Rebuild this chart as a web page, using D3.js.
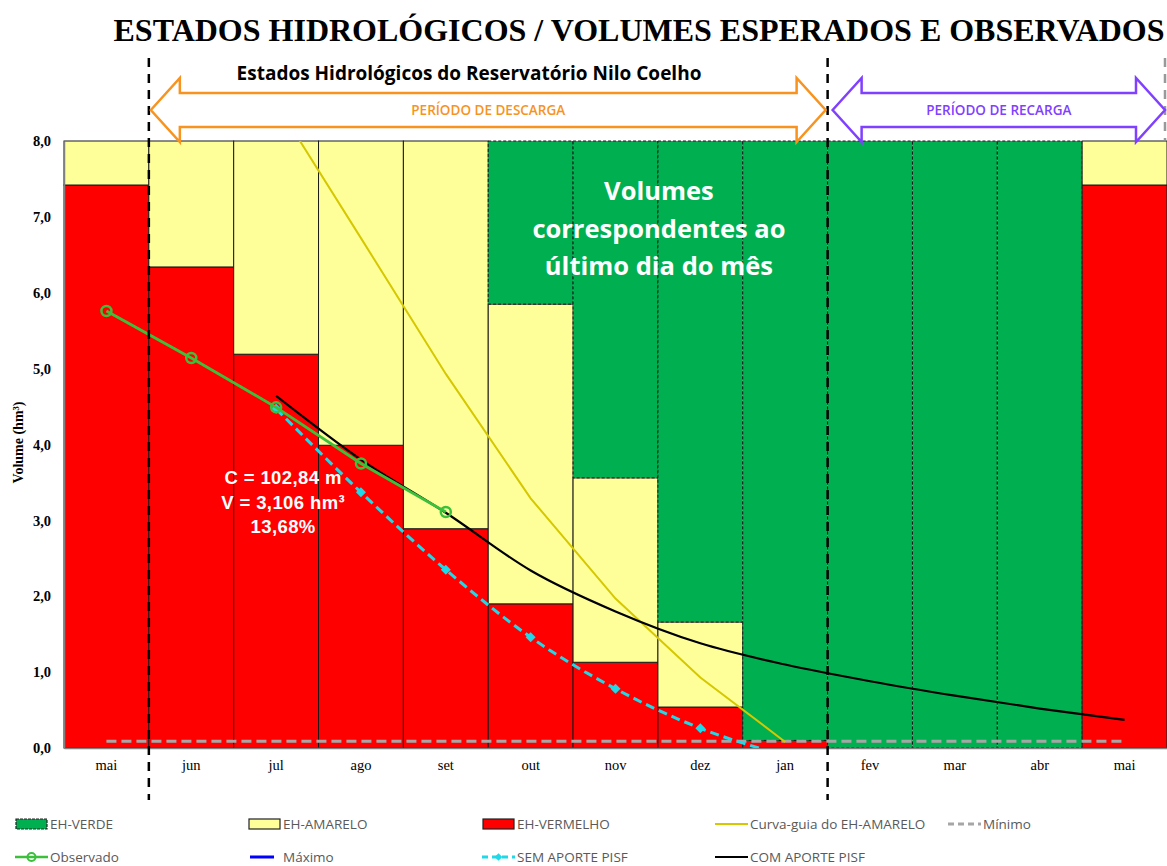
<!DOCTYPE html>
<html>
<head>
<meta charset="utf-8">
<script src="https://cdn.jsdelivr.net/npm/d3@7"></script>
<style>
  body { margin: 0; background: #fff; }
</style>
</head>
<body>
<div id="plot"></div>
<script>
// months of the hydrological year (last day of each month)
const months = ["mai", "jun", "jul", "ago", "set", "out", "nov", "dez", "jan", "fev", "mar", "abr", "mai"];

// state bands (hm³): top of red band, top of yellow band, green fills up to 8
const ehVermelho = [7.42, 6.34, 5.19, 3.99, 2.89, 1.90, 1.13, 0.54, 0.10, 0, 0, 0, 7.42];
const ehAmarelo  = [8, 8, 8, 8, 8, 5.85, 3.56, 1.66, 0.10, 0, 0, 0, 8];

// lines
const observado  = [5.76, 5.14, 4.49, 3.75, 3.11, null, null, null, null, null, null, null, null];
const semAporte  = [null, null, 4.47, 3.37, 2.35, 1.46, 0.78, 0.26, -0.10, null, null, null, null];
const comAporte  = [null, null, 4.64, 3.80, 3.10, 2.34, 1.80, 1.38, 1.10, 0.88, 0.69, 0.52, 0.37];
const curvaGuia  = [null, null, 8.50, 6.72, 4.93, 3.29, 1.97, 0.93, 0.08, null, null, null, null];
const minimo     = [0.09, 0.09, 0.09, 0.09, 0.09, 0.09, 0.09, 0.09, 0.09, 0.09, 0.09, 0.09, 0.09];

const yTicks = [0, 1, 2, 3, 4, 5, 6, 7, 8];

const annotation = ["C = 102,84 m", "V = 3,106 hm³", "13,68%"];
const greenNote = ["Volumes", "correspondentes ao", "último dia do mês"];

window.addEventListener("load", main);

function main(){
  const width = 1167, height = 866;
  const C = {
    red: "#ff0000", yellow: "#ffff99", green: "#00b050",
    obs: "#3cc03c", cyan: "#1fd8e8", guide: "#d6c800", min: "#a6a6a6",
    orange: "#f7931e", purple: "#8040ff"
  };

  const svg = d3.select("#plot").append("svg")
    .attr("width", width)
    .attr("height", height);

  const x = d3.scaleBand().domain(d3.range(months.length)).range([64, 1167]);
  const y = d3.scaleLinear().domain([0, 8]).range([748, 141]);
  const cx = i => x(i) + x.bandwidth() / 2;

  svg.append("clipPath").attr("id", "plotclip")
    .append("rect").attr("x", 64).attr("y", y(8)).attr("width", 1167 - 64).attr("height", y(0) - y(8));

  // bars
  const bars = svg.append("g").attr("id", "bars");
  months.forEach((m, i) => {
    if (ehVermelho[i] > 0) {
      bars.append("rect")
        .attr("x", x(i)).attr("width", x.bandwidth())
        .attr("y", y(ehVermelho[i])).attr("height", y(0) - y(ehVermelho[i]))
        .attr("fill", C.red).attr("stroke", "#1a1a1a").attr("stroke-width", 1);
    }
    if (ehAmarelo[i] > ehVermelho[i]) {
      bars.append("rect")
        .attr("x", x(i)).attr("width", x.bandwidth())
        .attr("y", y(ehAmarelo[i])).attr("height", y(ehVermelho[i]) - y(ehAmarelo[i]))
        .attr("fill", C.yellow).attr("stroke", "#1a1a1a").attr("stroke-width", 1);
    }
    if (ehAmarelo[i] < 8) {
      bars.append("rect")
        .attr("x", x(i)).attr("width", x.bandwidth())
        .attr("y", y(8)).attr("height", y(ehAmarelo[i]) - y(8))
        .attr("fill", C.green).attr("stroke", "#1a1a1a").attr("stroke-width", 1)
        .attr("stroke-dasharray", "3,2");
    }
  });

  // axes
  const yAxis = svg.append("g")
    .attr("transform", "translate(64,0)")
    .call(d3.axisLeft(y).tickValues(yTicks).tickSize(0).tickPadding(13)
      .tickFormat(d => d.toFixed(1).replace(".", ",")));
  yAxis.select(".domain").attr("stroke", "#808080").attr("stroke-width", 1.5);
  yAxis.selectAll("text")
    .attr("font-family", "'Liberation Serif', serif").attr("font-weight", "bold")
    .attr("font-size", 14.5).attr("fill", "#000");

  const xAxis = svg.append("g")
    .attr("transform", "translate(0,748)")
    .call(d3.axisBottom(x).tickSize(0).tickPadding(12).tickFormat(i => months[i]));
  xAxis.select(".domain").attr("stroke", "#808080").attr("stroke-width", 1.5);
  xAxis.selectAll("text")
    .attr("font-family", "'Liberation Serif', serif")
    .attr("font-size", 14.5).attr("fill", "#000");

  svg.append("text")
    .attr("transform", "translate(23," + ((y(0) + y(8)) / 2 - 2) + ") rotate(-90)")
    .attr("text-anchor", "middle")
    .attr("font-family", "'Liberation Serif', serif").attr("font-weight", "bold")
    .attr("font-size", 14)
    .text("Volume (hm³)");

  // lines
  const lines = svg.append("g").attr("clip-path", "url(#plotclip)");
  const mk = curve => d3.line().defined(d => d != null).x((d, i) => cx(i)).y(d => y(d)).curve(curve);

  lines.append("path").datum(minimo)
    .attr("d", mk(d3.curveLinear)).attr("fill", "none")
    .attr("stroke", C.min).attr("stroke-width", 3).attr("stroke-dasharray", "10,5");

  lines.append("path").datum(curvaGuia)
    .attr("d", mk(d3.curveLinear)).attr("fill", "none")
    .attr("stroke", C.guide).attr("stroke-width", 2);

  lines.append("path").datum(comAporte)
    .attr("d", mk(d3.curveMonotoneX)).attr("fill", "none")
    .attr("stroke", "#000").attr("stroke-width", 2.2);

  lines.append("path").datum(semAporte)
    .attr("d", mk(d3.curveMonotoneX)).attr("fill", "none")
    .attr("stroke", C.cyan).attr("stroke-width", 3).attr("stroke-dasharray", "9,5");

  lines.selectAll(".dia").data(semAporte.map((v, i) => [v, i]).filter(d => d[0] != null && d[0] >= 0))
    .join("path")
    .attr("transform", d => "translate(" + cx(d[1]) + "," + y(d[0]) + ") rotate(45)")
    .attr("d", d3.symbol(d3.symbolSquare, 50))
    .attr("fill", C.cyan);

  lines.append("path").datum(observado)
    .attr("d", mk(d3.curveLinear)).attr("fill", "none")
    .attr("stroke", C.obs).attr("stroke-width", 2.8);

  lines.selectAll(".obs").data(observado.map((v, i) => [v, i]).filter(d => d[0] != null))
    .join("circle")
    .attr("cx", d => cx(d[1])).attr("cy", d => y(d[0])).attr("r", 5)
    .attr("fill", "none").attr("stroke", C.obs).attr("stroke-width", 2.5);

  // texts inside plot
  svg.append("g").selectAll("text").data(annotation).join("text")
    .attr("x", cx(2) + 7).attr("y", (d, i) => 484 + i * 24.5)
    .attr("text-anchor", "middle")
    .attr("font-family", "'Liberation Sans', Arial, sans-serif").attr("font-weight", "bold")
    .attr("font-size", 18.5).attr("letter-spacing", 0.4).attr("fill", "#fff")
    .text(d => d);

  svg.append("g").selectAll("text").data(greenNote).join("text")
    .attr("x", x(7) + 1).attr("y", (d, i) => 200 + i * 37.5)
    .attr("text-anchor", "middle")
    .attr("font-family", "'Open Sans', sans-serif").attr("font-weight", "bold")
    .attr("font-size", 25.5).attr("fill", "#fff")
    .text(d => d);

  // period dividers
  const div = svg.append("g");
  [x(1), x(9)].forEach(px => {
    div.append("line").attr("x1", px).attr("x2", px).attr("y1", 58).attr("y2", 800)
      .attr("stroke", "#000").attr("stroke-width", 2.5).attr("stroke-dasharray", "9,7");
  });
  div.append("line").attr("x1", 1165).attr("x2", 1165).attr("y1", 58).attr("y2", 140)
    .attr("stroke", "#999").attr("stroke-width", 2.5).attr("stroke-dasharray", "9,7");

  // double arrows
  function dblArrow(x0, x1, yc, color, label){
    const hh = 32, sh = 17, hl = 29;
    const pts = [
      [x0, yc], [x0 + hl, yc - hh], [x0 + hl, yc - sh], [x1 - hl, yc - sh], [x1 - hl, yc - hh],
      [x1, yc], [x1 - hl, yc + hh], [x1 - hl, yc + sh], [x0 + hl, yc + sh], [x0 + hl, yc + hh]
    ];
    svg.append("path")
      .attr("d", "M" + pts.map(p => p.join(",")).join("L") + "Z")
      .attr("fill", "#fff").attr("stroke", color).attr("stroke-width", 2.5)
      .attr("stroke-linejoin", "miter");
    svg.append("text")
      .attr("x", (x0 + x1) / 2).attr("y", yc + 5)
      .attr("text-anchor", "middle")
      .attr("font-family", "'Open Sans', sans-serif").attr("font-weight", 600)
      .attr("font-size", 13.5).attr("fill", color)
      .text(label);
  }
  dblArrow(x(1) + 2, x(9) - 2, 110, C.orange, "PERÍODO DE DESCARGA");
  dblArrow(x(9) + 5, 1165, 110, C.purple, "PERÍODO DE RECARGA");

  // titles
  svg.append("text")
    .attr("x", 639).attr("y", 41)
    .attr("text-anchor", "middle")
    .attr("font-family", "'Liberation Serif', serif").attr("font-weight", "bold")
    .attr("font-size", 32)
    .text("ESTADOS HIDROLÓGICOS / VOLUMES ESPERADOS E OBSERVADOS");

  svg.append("text")
    .attr("x", 469).attr("y", 80)
    .attr("text-anchor", "middle")
    .attr("font-family", "'Open Sans', sans-serif").attr("font-weight", "bold")
    .attr("font-size", 19)
    .text("Estados Hidrológicos do Reservatório Nilo Coelho");

  // legend
  const legendItems = [
    {label: "EH-VERDE", kind: "box", fill: C.green, dash: "3,1"},
    {label: "EH-AMARELO", kind: "box", fill: C.yellow},
    {label: "EH-VERMELHO", kind: "box", fill: C.red},
    {label: "Curva-guia do EH-AMARELO", kind: "line", color: C.guide, w: 2},
    {label: "Mínimo", kind: "line", color: C.min, w: 3, dash: "6,4"},
    {label: "Observado", kind: "line", color: C.obs, w: 2.5, marker: "circle"},
    {label: "Máximo", kind: "line", color: "#0000ff", w: 3, gap: true},
    {label: "SEM APORTE PISF", kind: "line", color: C.cyan, w: 3, dash: "6,4", marker: "diamond"},
    {label: "COM APORTE PISF", kind: "line", color: "#000", w: 2.2}
  ];
  const colX = [15, 248, 482, 715, 948];
  const rowY = [824, 857];
  const lg = svg.append("g");
  legendItems.forEach((it, k) => {
    const lx = colX[k % 5], ly = rowY[Math.floor(k / 5)];
    const g = lg.append("g").attr("transform", "translate(" + lx + "," + ly + ")");
    if (it.kind === "box") {
      g.append("rect").attr("x", 1).attr("y", -5).attr("width", 31).attr("height", 10)
        .attr("fill", it.fill).attr("stroke", "#222").attr("stroke-width", 1.2)
        .attr("stroke-dasharray", it.dash || null);
    } else {
      const xa = it.gap ? 2 : 0, xb = it.gap ? 26 : 33;
      g.append("line").attr("x1", xa).attr("x2", xb).attr("y1", 0).attr("y2", 0)
        .attr("stroke", it.color).attr("stroke-width", it.w)
        .attr("stroke-dasharray", it.dash || null);
      if (it.marker === "circle") {
        g.append("circle").attr("cx", 16.5).attr("cy", 0).attr("r", 4)
          .attr("fill", "none").attr("stroke", it.color).attr("stroke-width", 2);
      }
      if (it.marker === "diamond") {
        g.append("path").attr("transform", "translate(16.5,0) rotate(45)")
          .attr("d", d3.symbol(d3.symbolSquare, 30)).attr("fill", it.color);
      }
    }
    g.append("text").attr("x", 35).attr("y", 4.5)
      .attr("font-family", "'Open Sans', sans-serif").attr("font-size", 13.5)
      .attr("fill", "#595959")
      .text(it.label);
  });
}
</script>
</body>
</html>
